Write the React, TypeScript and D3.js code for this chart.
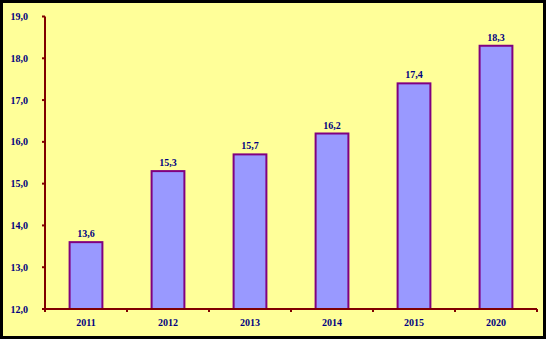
import React from "react";
import * as d3 from "d3";

const categories = ["2011", "2012", "2013", "2014", "2015", "2020"];
const values = [13.6, 15.3, 15.7, 16.2, 17.4, 18.3];
const yTicks = [12, 13, 14, 15, 16, 17, 18, 19];

const W = 546;
const H = 339;
const left = 45;
const right = 537;
const top = 16.5;
const bottom = 309;

const fmt = (v: number) => v.toFixed(1).replace(".", ",");

export default function App() {
  const x = d3.scaleBand<string>().domain(categories).range([left, right]).paddingInner(0.6).paddingOuter(0.3);
  const xb = d3.scaleBand<string>().domain(categories).range([left, right]);
  const y = d3.scaleLinear().domain([12, 19]).range([bottom, top]);
  const font = "'Liberation Serif', 'Times New Roman', serif";
  const textColor = "#000080";
  return (
    <svg width={W} height={H} style={{ position: "fixed", left: 0, top: 0 }}>
      <rect x={0} y={0} width={W} height={H} fill="#000" />
      <rect x={3} y={3} width={W - 6} height={H - 6} fill="#FFFF99" />
      {categories.map((c, i) => (
        <rect
          key={c}
          x={x(c)!}
          y={y(values[i])}
          width={x.bandwidth()}
          height={bottom - y(values[i])}
          fill="#9999FF"
          stroke="#800080"
          strokeWidth={2}
        />
      ))}
      {categories.map((c, i) => (
        <text
          key={"l" + c}
          x={x(c)! + x.bandwidth() / 2}
          y={y(values[i]) - 5}
          textAnchor="middle"
          fontFamily={font}
          fontWeight="bold"
          fontSize={10}
          fill={textColor}
        >
          {fmt(values[i])}
        </text>
      ))}
      {/* y axis */}
      <line x1={left} x2={left} y1={top} y2={bottom} stroke="#800000" strokeWidth={2} />
      {yTicks.map((t) => (
        <g key={"y" + t}>
          <line x1={left - 3} x2={left} y1={y(t)} y2={y(t)} stroke="#800000" strokeWidth={2} />
          <text
            x={28}
            y={y(t) + 3.5}
            textAnchor="end"
            fontFamily={font}
            fontWeight="bold"
            fontSize={10}
            fill={textColor}
          >
            {fmt(t)}
          </text>
        </g>
      ))}
      {/* x axis */}
      <line x1={left} x2={right} y1={bottom} y2={bottom} stroke="#800000" strokeWidth={2} />
      {categories.map((c) => (
        <line key={"xt" + c} x1={xb(c)!} x2={xb(c)!} y1={bottom} y2={bottom + 3} stroke="#800000" strokeWidth={2} />
      ))}
      <line x1={right} x2={right} y1={bottom} y2={bottom + 3} stroke="#800000" strokeWidth={2} />
      {categories.map((c) => (
        <text
          key={"xl" + c}
          x={xb(c)! + xb.bandwidth() / 2}
          y={326}
          textAnchor="middle"
          fontFamily={font}
          fontWeight="bold"
          fontSize={10}
          fill={textColor}
        >
          {c}
        </text>
      ))}
    </svg>
  );
}
